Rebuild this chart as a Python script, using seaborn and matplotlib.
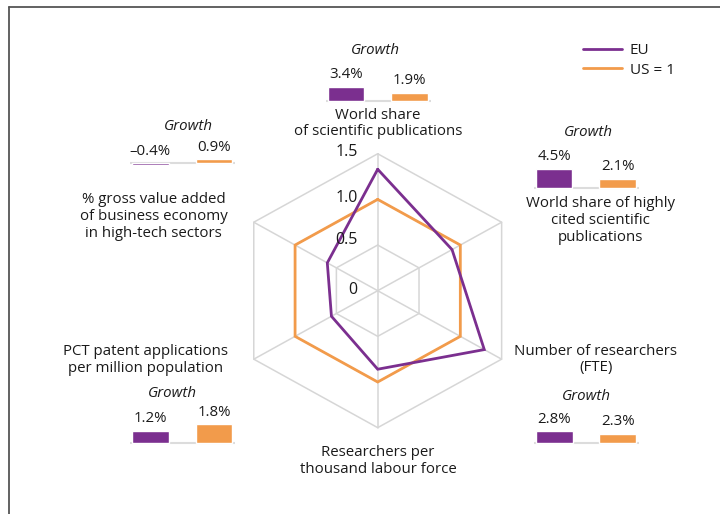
import numpy as np
import pandas as pd
import seaborn as sns
import matplotlib
matplotlib.use("Agg")
from matplotlib import pyplot as plt
from matplotlib.lines import Line2D

# data
axis_labels = ["World share\nof scientific publications",
               "World share of highly\ncited scientific\npublications",
               "Number of researchers\n(FTE)",
               "Researchers per\nthousand labour force",
               "PCT patent applications\nper million population",
               "% gross value added\nof business economy\nin high-tech sectors"]
eu_index = [1.33, 0.90, 1.29, 0.86, 0.56, 0.61]
us_index = [1.0, 1.0, 1.0, 1.0, 1.0, 1.0]
growth_eu = [3.4, 4.5, 2.8, None, 1.2, -0.4]
growth_us = [1.9, 2.1, 2.3, None, 1.8, 0.9]
growth_eu_txt = ["3.4%", "4.5%", "2.8%", None, "1.2%", "\u20130.4%"]
growth_us_txt = ["1.9%", "2.1%", "2.3%", None, "1.8%", "0.9%"]
ring_levels = [0.5, 1.0, 1.5]
tick_text = ["0", "0.5", "1.0", "1.5"]
tick_vals = [0.0, 0.5, 1.0, 1.5]

PURPLE = "#7b2f8f"
ORANGE = "#f29b4b"
GRID = "#d6d6d6"

sns.set_theme(style="white")
plt.rcParams["font.family"] = ["Open Sans", "DejaVu Sans"]
plt.rcParams["font.size"] = 10.8
plt.rcParams["text.color"] = "#1a1a1a"

W, H = 720, 514
fig = plt.figure(figsize=(7.2, 5.14), dpi=100)

# pixel layout of the radar
cx, cy, sx, sy = 377.7, 290.7, 95.4, 91.3


def fx(px):
    return px / W


def fy(py):
    return 1 - py / H


ax = fig.add_axes([0, 0, 1, 1])
ax.set_xlim(-cx / sx, (W - cx) / sx)
ax.set_ylim((cy - H) / sy, cy / sy)
ax.axis("off")

n = len(axis_labels)
ang = np.pi / 2 - np.arange(n) * 2 * np.pi / n


def xy(vals):
    v = np.asarray(vals + vals[:1], dtype=float)
    a = np.append(ang, ang[0])
    return v * np.cos(a), v * np.sin(a)


for lv in ring_levels:
    rx, ry = xy([lv] * n)
    ax.plot(rx, ry, color=GRID, lw=1.1, zorder=1)
for a in ang:
    ax.plot([0, 1.5 * np.cos(a)], [0, 1.5 * np.sin(a)], color=GRID, lw=1.1, zorder=1)

ux, uy = xy(us_index)
ax.plot(ux, uy, color=ORANGE, lw=2.0, zorder=3, solid_joinstyle="miter")
ex, ey = xy(eu_index)
ax.plot(ex, ey, color=PURPLE, lw=2.0, zorder=4, solid_joinstyle="miter")

tick_nudge = [0.01, 0.06, 0.01, 0.02]
for t, v, d in zip(tick_text, tick_vals, tick_nudge):
    ax.text(-0.21, v + d, t, ha="right", va="center", fontsize=11.5, zorder=5)

# category labels (pixel centres)
label_pos = [(378, 123.5), (600, 220.5), (596, 359.5), (378, 461), (145.5, 360), (153.5, 216.5)]
for lab, (px, py) in zip(axis_labels, label_pos):
    fig.text(fx(px), fy(py), lab, ha="center", va="center", linespacing=1.15)

# small growth bar charts: purple bar centre, baseline (px), px per %
mini = {0: (346.0, 100.7, 4.15, (375, 50)),
        1: (554.0, 187.7, 4.2, (588, 132.7)),
        2: (554.2, 443.3, 4.25, (586, 396.7)),
        4: (150.3, 443.3, 10.5, (172, 393.3)),
        5: (150.3, 163.3, 4.4, (188, 126.7))}
unit = 63.6
x_lo, x_hi = -0.32, 1.33
for i, (pcx, by, scale, gpos) in mini.items():
    hpx, below = 44, 8
    left = pcx + x_lo * unit
    iax = fig.add_axes([fx(left), fy(by + below), (x_hi - x_lo) * unit / W, hpx / H])
    df = pd.DataFrame({"who": ["EU", "US = 1"], "g": [growth_eu[i], growth_us[i]]})
    sns.barplot(data=df, x="who", y="g", hue="who", palette=[PURPLE, ORANGE],
                saturation=1, width=0.577, legend=False, ax=iax, zorder=3)
    iax.axhline(0, color="#dcdcdc", lw=1.5, zorder=1)
    iax.set_xlim(x_lo, x_hi)
    iax.set_ylim(-below / scale, (hpx - below) / scale)
    iax.axis("off")
    for k, (val, txt) in enumerate(zip(df["g"], [growth_eu_txt[i], growth_us_txt[i]])):
        iax.annotate(txt, (k, max(val, 0)), xytext=(0, 8.8), textcoords="offset points",
                     ha="center", va="center", annotation_clip=False)
    fig.text(fx(gpos[0]), fy(gpos[1]), "Growth", style="italic", ha="center", va="center")

# legend
handles = [Line2D([], [], color=PURPLE, lw=2), Line2D([], [], color=ORANGE, lw=2)]
fig.legend(handles, ["EU", "US = 1"], loc="upper left", bbox_to_anchor=(fx(583), fy(43)),
           frameon=False, borderpad=0, borderaxespad=0, handlelength=2.55,
           handletextpad=0.5, labelspacing=0.3)

# partial frame (top and left edges)
fig.add_artist(Line2D([fx(9), 1], [fy(7), fy(7)], color="#555555", lw=1.3))
fig.add_artist(Line2D([fx(9), fx(9)], [fy(7), 0], color="#555555", lw=1.3))

fig.savefig("out.png", dpi=100)
